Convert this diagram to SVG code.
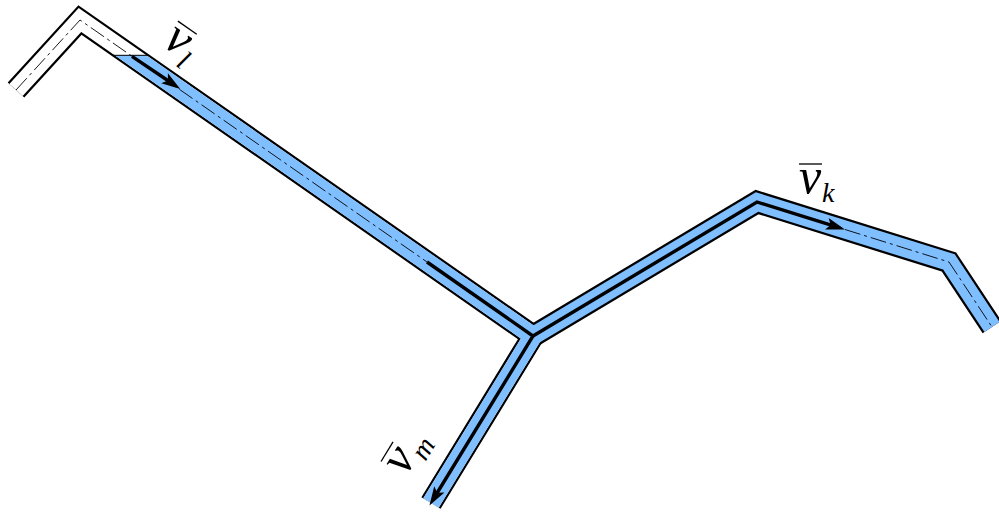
<svg xmlns="http://www.w3.org/2000/svg" width="999" height="512" viewBox="0 0 999 512">
  <style>
    .outline { fill: none; stroke: #000; stroke-width: 22.5; stroke-linejoin: miter; stroke-miterlimit: 10; stroke-linecap: butt; }
    .inner { fill: none; stroke-width: 18; stroke-linejoin: miter; stroke-miterlimit: 10; stroke-linecap: butt; }
    .blue { stroke: #80bfff; }
    .white { stroke: #fff; }
    .center { fill: none; stroke: #000; stroke-width: 0.9; stroke-dasharray: 16 4 3 4; stroke-linejoin: miter; }
    .flow { fill: none; stroke: #000; stroke-width: 3.4; stroke-linejoin: miter; stroke-linecap: butt; }
    .lab { font-family: "Liberation Serif", "DejaVu Serif", serif; font-style: italic; fill: #000; }
    .bar { stroke: #000; stroke-width: 1.3; }
  </style>
  <defs>
    <marker id="ah" markerUnits="userSpaceOnUse" orient="auto" refX="0" refY="0" markerWidth="40" markerHeight="40" viewBox="-20 -20 40 40" overflow="visible">
      <path d="M-12,-6 L7,0 L-12,6 L-8,0 Z" fill="#000"/>
    </marker>
    <clipPath id="cutL">
      <polygon points="100,55 1000,55 1000,512 100,512"/>
    </clipPath>
  </defs>

  <g id="pipes">
    <g id="pipe-l-m">
      <path class="outline" d="M16,90 L80,20 L533,336 L431,503"/>
    </g>
    <g id="pipe-k">
      <path class="outline" d="M525.3,340.6 L757,202 L949,262 L992,327"/>
    </g>
    <path class="inner white" d="M16,90 L80,20 L533,336 L431,503"/>
    <path class="inner blue" clip-path="url(#cutL)" d="M16,90 L80,20 L533,336 L431,503"/>
    <path class="inner blue" d="M525.3,340.6 L757,202 L949,262 L992,327"/>
    <line x1="113" y1="55.3" x2="148" y2="55.3" stroke="#000" stroke-width="1"/>
  </g>

  <g id="connectors">
    <path class="center" d="M16,90 L80,20 L427,262"/>
    <path class="center" d="M845,229.5 L949,262 L992,327"/>
    <path class="flow" d="M132,56.3 L174.5,85" marker-end="url(#ah)"/>
    <path class="flow" d="M427,262 L533,336 L433.1,499.5" marker-end="url(#ah)"/>
    <path class="flow" d="M533,336 L757,202 L838.3,227.4" marker-end="url(#ah)"/>
  </g>

  <g id="label-l" transform="matrix(0.8192 0.5736 -0.5736 0.8192 176 43)">
    <line class="bar" x1="-11" y1="-19" x2="12" y2="-19"/>
    <text class="lab" x="0" y="10" font-size="50" text-anchor="middle">v</text>
    <text class="lab" x="12" y="19" font-size="28">l</text>
  </g>
  <g id="label-k" transform="translate(810,183)">
    <line class="bar" x1="-11" y1="-19" x2="12" y2="-19"/>
    <text class="lab" x="0" y="10" font-size="50" text-anchor="middle">v</text>
    <text class="lab" x="12" y="19" font-size="28">k</text>
  </g>
  <g id="label-m" transform="matrix(0.5210 -0.8535 0.8535 0.5210 403 462)">
    <line class="bar" x1="-11" y1="-19" x2="12" y2="-19"/>
    <text class="lab" x="0" y="10" font-size="50" text-anchor="middle">v</text>
    <text class="lab" x="12" y="19" font-size="28">m</text>
  </g>
</svg>
